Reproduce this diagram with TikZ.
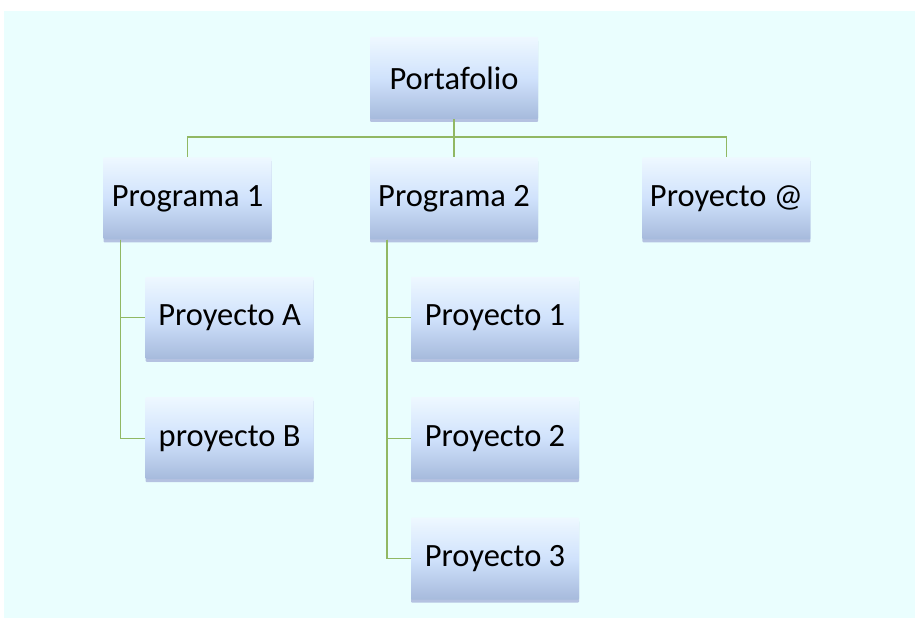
\documentclass[tikz,border=0pt]{standalone}
\usepackage{fontspec}
\setmainfont{Carlito}
\usepackage{tikz}
\usetikzlibrary{positioning,shadows,backgrounds}
\definecolor{bgcyan}{RGB}{234,254,254}
\definecolor{linkgreen}{RGB}{145,184,100}
\definecolor{boxtop}{RGB}{238,248,255}
\definecolor{boxmid}{RGB}{208,226,252}
\definecolor{boxbot}{RGB}{166,186,220}
\tikzstyle{unit} = [rectangle, rounded corners=1pt, top color=boxtop, bottom color=boxbot,
middle color=boxmid, text=black, text centered, font=\fontsize{32.5}{38}\selectfont,
minimum width=168pt, minimum height=82pt, inner xsep=2pt,
drop shadow={shadow xshift=0pt, shadow yshift=-3pt, opacity=0.35, fill=blue!35!gray}]
\tikzstyle{tedge} = [draw=linkgreen, line width=1.4pt]

\begin{document}
\begin{tikzpicture}[auto]

\useasboundingbox (0,0) rectangle (915pt,619pt);
\fill[bgcyan] (4pt,1pt) rectangle (915pt,608pt);

\node[unit] (port) at (454pt,541pt) {Portafolio};

% second level =============================
\node[unit, below=38pt of port] (prog2) {Programa 2};
\node[unit, left=98pt of prog2] (prog1) {Programa 1};
\node[unit, right=104pt of prog2] (proyat) {Proyecto @};

\path[tedge] (port.south) -- ++(0,-18pt) -| (prog1.north);
\path[tedge] (port.south) -- (prog2.north);
\path[tedge] (port.south) -- ++(0,-18pt) -| (proyat.north);

% projects under Programa 1
\node[unit, below=37pt of prog1, xshift=42pt] (proyA) {Proyecto A};
\node[unit, below=38pt of proyA] (proyB) {proyecto B};

\path[tedge] (prog1.south west) ++(17pt,0) |- (proyA.west);
\path[tedge] (prog1.south west) ++(17pt,0) |- (proyB.west);

% projects under Programa 2
\node[unit, below=37pt of prog2, xshift=41pt] (proy1) {Proyecto 1};
\node[unit, below=38pt of proy1] (proy2) {Proyecto 2};
\node[unit, below=38pt of proy2] (proy3) {Proyecto 3};

\path[tedge] (prog2.south west) ++(17pt,0) |- (proy1.west);
\path[tedge] (prog2.south west) ++(17pt,0) |- (proy2.west);
\path[tedge] (prog2.south west) ++(17pt,0) |- (proy3.west);

\end{tikzpicture}
\end{document}
